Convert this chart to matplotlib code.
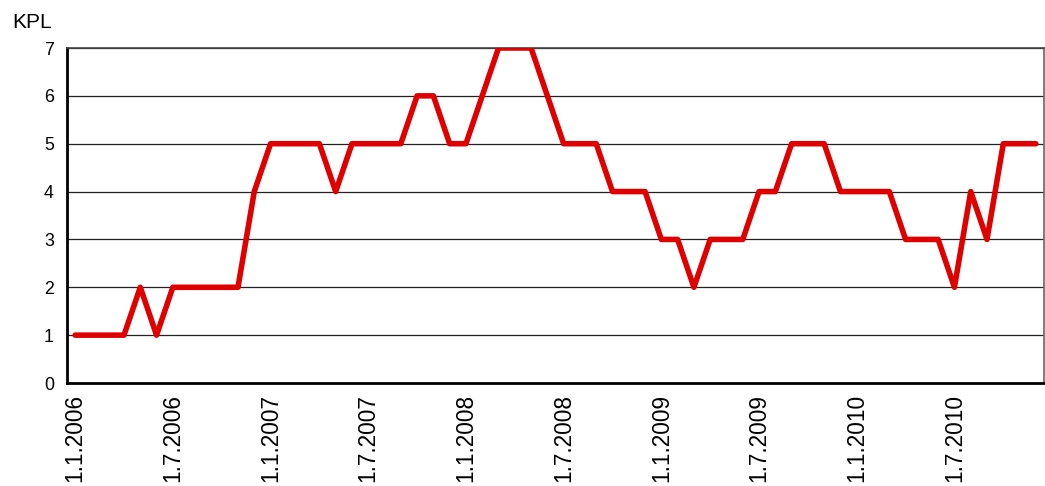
import matplotlib
matplotlib.use("Agg")
import matplotlib.pyplot as plt
import numpy as np

plt.rcParams['font.family'] = ['Liberation Sans', 'DejaVu Sans']

# monthly values, Jan 2006 .. Dec 2010
values = [1, 1, 1, 1, 2, 1, 2, 2, 2, 2, 2, 4,
          5, 5, 5, 5, 4, 5, 5, 5, 5, 6, 6, 5,
          5, 6, 7, 7, 7, 6, 5, 5, 5, 4, 4, 4,
          3, 3, 2, 3, 3, 3, 4, 4, 5, 5, 5, 4,
          4, 4, 4, 3, 3, 3, 2, 4, 3, 5, 5, 5]
tick_labels = ['1.1.2006', '1.7.2006', '1.1.2007', '1.7.2007', '1.1.2008',
               '1.7.2008', '1.1.2009', '1.7.2009', '1.1.2010', '1.7.2010']
y_label = 'KPL'

fig = plt.figure(figsize=(10.45, 4.86), dpi=100)
ax = fig.add_axes([67 / 1045, 1 - 383 / 486, (1044 - 67) / 1045, (383 - 48) / 486])

x = np.arange(len(values))
ax.plot(x, values, color='#e00000', linewidth=4.0, solid_capstyle='round', zorder=3)

ax.set_xlim(-0.5, len(values) - 0.5)
ax.set_ylim(0, 7)
ax.set_yticks(range(0, 8))
ax.set_xticks(np.arange(0, len(values), 6))
ax.set_xticklabels(tick_labels, rotation=90, va='top', ha='center')
ax.tick_params(axis='both', length=0, colors='black')
ax.tick_params(axis='x', labelsize=16.3, pad=8)
ax.tick_params(axis='y', labelsize=12.8, pad=9.5)

ax.yaxis.grid(True, color='#222222', linewidth=0.9)
ax.set_axisbelow(True)

ax.spines['left'].set_linewidth(2)
ax.spines['bottom'].set_linewidth(2)
ax.spines['left'].set_color('black')
ax.spines['bottom'].set_color('black')
ax.spines['top'].set_color('#444444')
ax.spines['right'].set_color('#666666')
ax.spines['top'].set_linewidth(1.2)
ax.spines['right'].set_linewidth(1.2)

fig.text(12 / 1045, 1 - 23 / 486, y_label, fontsize=15, va='center', ha='left')

fig.savefig('out.png', dpi=100)
